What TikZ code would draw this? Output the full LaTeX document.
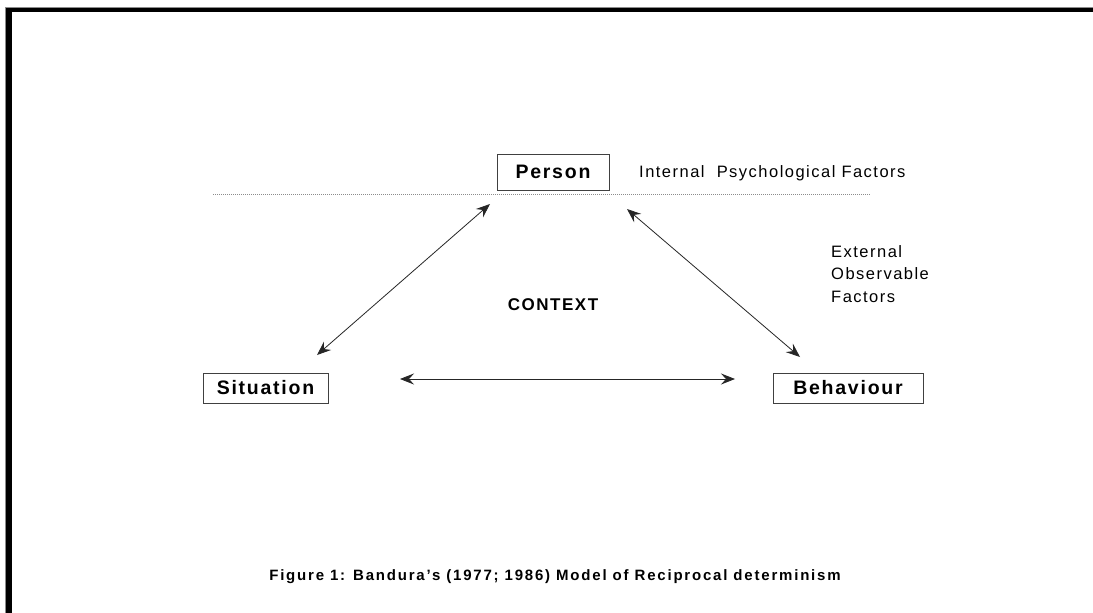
\documentclass[tikz,border=0pt]{standalone}
\usepackage{fontspec}
\setmainfont{Liberation Sans}
\newfontfamily\spacedfont{Liberation Sans}[LetterSpace=9]
\newfontfamily\capfont{Liberation Sans}[LetterSpace=12]
\usetikzlibrary{arrows.meta}
\tikzset{
  boxnode/.style={draw=black!75, line width=1pt, inner sep=0pt, font=\spacedfont\bfseries\fontsize{19.5}{22}\selectfont},
  plainlabel/.style={inner sep=0pt, font=\spacedfont\fontsize{16.5}{22.5}\selectfont},
  boldlabel/.style={inner sep=0pt, font=\spacedfont\bfseries\fontsize{17}{20}\selectfont},
  caplabel/.style={inner sep=0pt, font=\capfont\bfseries\fontsize{15}{18}\selectfont},
  recip/.style={line width=0.8pt, black!85, {Stealth[length=14pt,width=11pt,inset=5pt]}-{Stealth[length=14pt,width=11pt,inset=5pt]}},
  sepline/.style={line width=1pt, black!45, dash pattern=on 1pt off 1pt}
}
\begin{document}
\begin{tikzpicture}[x=1pt,y=-1pt]
\useasboundingbox (0,0) rectangle (1093,613);
\fill[white] (0,0) rectangle (1093,613);
% frame (top and left only)
\fill[black!45] (5,7) rectangle (1093,8);
\fill[black!45] (5,7) rectangle (6,613);
\fill[black] (6,8) rectangle (1093,12);
\fill[black] (6,8) rectangle (12,613);
% nodes
\node[boxnode, minimum width=112pt, minimum height=36pt] (per) at (553,172) {Person};
\node[boxnode, minimum width=125pt, minimum height=30pt] (sit) at (265.5,388) {Situation};
\node[boxnode, minimum width=150pt, minimum height=30pt] (beh) at (848,388) {Behaviour};
\node[plainlabel, anchor=west] (ipf) at (639,173) {Internal\ \ Psychological Factors};
\node[plainlabel, anchor=north west, align=left] (eof) at (831,245) {External\\Observable\\Factors};
\node[boldlabel] (ctx) at (553,305) {CONTEXT};
\node[caplabel] (cap) at (555,577) {Figure 1: Bandura’s (1977; 1986) Model of Reciprocal determinism};
% separator
\coordinate (sepL) at (213,194);
\coordinate (sepR) at (870,194);
\draw[sepline] (sepL) -- (sepR);
% arrow end points
\coordinate (sp) at (317,355);
\coordinate (ps) at (490,204);
\coordinate (pb) at (627,209);
\coordinate (bp) at (800,357);
\coordinate (sb) at (400,379);
\coordinate (bs) at (735,379);
\draw[recip] (sp) -- (ps);
\draw[recip] (pb) -- (bp);
\draw[recip] (sb) -- (bs);
\end{tikzpicture}
\end{document}
